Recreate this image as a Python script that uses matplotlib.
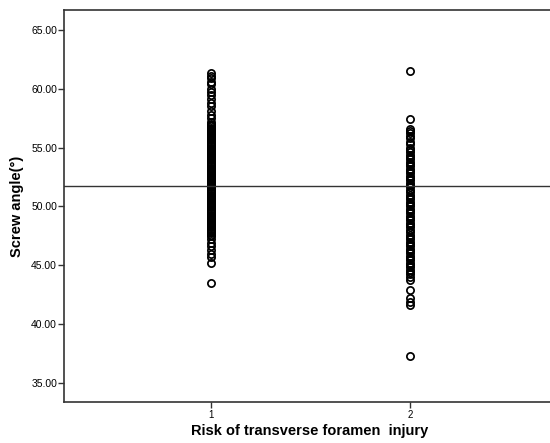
import matplotlib
matplotlib.use("Agg")
import matplotlib.pyplot as plt

# Datos
grupo_1 = [61.3, 61.1, 60.9, 60.6, 60.4, 60.0, 59.7, 59.5, 59.1, 58.8, 58.5,
           58.1, 57.8, 57.5, 57.2,
           57.0, 56.9, 56.8, 56.7, 56.6, 56.5, 56.4, 56.3, 56.2, 56.1,
           56.0, 55.9, 55.8, 55.7, 55.6, 55.5, 55.4, 55.3, 55.2, 55.1,
           55.0, 54.9, 54.8, 54.7, 54.6, 54.5, 54.4, 54.3, 54.2, 54.1,
           54.0, 53.9, 53.8, 53.7, 53.6, 53.5, 53.4, 53.3, 53.2, 53.1,
           53.0, 52.9, 52.8, 52.7, 52.6, 52.5, 52.4, 52.3, 52.2, 52.1,
           52.0, 51.9, 51.8, 51.7, 51.6, 51.5, 51.4, 51.3, 51.2, 51.1,
           51.0, 50.9, 50.8, 50.7, 50.6, 50.5, 50.4, 50.3, 50.2, 50.1,
           50.0, 49.9, 49.8, 49.7, 49.6, 49.5, 49.4, 49.3, 49.2, 49.1,
           49.0, 48.9, 48.8, 48.7, 48.6, 48.5, 48.4, 48.3, 48.2, 48.1,
           48.0, 47.9, 47.8, 47.7, 47.6, 47.5,
           47.2, 46.9, 46.6, 46.3, 45.9, 45.7, 45.2, 43.5]
grupo_2 = [61.5, 57.4, 56.6, 56.4, 56.2, 56.0, 55.8, 55.5, 55.3, 55.0, 54.8,
           54.6, 54.4, 54.2, 54.0, 53.8, 53.6, 53.4, 53.2, 53.0, 52.8, 52.6,
           52.4, 52.2, 52.0, 51.8, 51.6, 51.4, 51.2, 51.0, 50.8, 50.6, 50.4,
           50.2, 50.0, 49.8, 49.6, 49.4, 49.2, 49.0, 48.8, 48.6, 48.4, 48.2,
           48.0, 47.8, 47.6, 47.4, 47.2, 47.0, 46.8, 46.6, 46.4, 46.2, 46.0,
           45.8, 45.6, 45.4, 45.2, 45.0, 44.8, 44.6, 44.4, 44.2, 44.0, 43.7,
           42.9, 42.2, 41.9, 41.6, 37.3]
media = 51.7
yticks = [35, 40, 45, 50, 55, 60, 65]

plt.rcParams['font.family'] = ['Liberation Sans', 'DejaVu Sans']

fig = plt.figure(figsize=(5.5, 4.43), dpi=100)
ax = fig.add_axes([64 / 550, 1 - 402 / 443, 1 - 64 / 550 + 0.01, 392 / 443])

for x, vals in [(1, grupo_1), (2, grupo_2)]:
    ax.plot([x] * len(vals), vals, linestyle='none', marker='o', ms=5.2,
            mfc='none', mec='black', mew=1.25)

ax.axhline(media, color='#333333', lw=1)

ax.set_xlim(0.26, 2.73)
ax.set_ylim(33.35, 66.7)
ax.set_xticks([1, 2])
ax.set_xticklabels(['1', '2'], fontsize=7)
ax.set_yticks(yticks)
ax.set_yticklabels([f"{v:.2f}" for v in yticks], fontsize=7.5)
ax.tick_params(direction='out', length=4, width=1, color='#333333')
ax.tick_params(axis='x', pad=2)
ax.tick_params(axis='y', pad=1)

for lado in ['left', 'bottom', 'top']:
    ax.spines[lado].set_linewidth(1.2)
    ax.spines[lado].set_color('#333333')
ax.spines['right'].set_visible(False)

ax.set_xlabel("Risk of transverse foramen  injury", fontsize=10.5,
              fontweight='bold', labelpad=3)
ax.set_ylabel("Screw angle(°)", fontsize=10.5, fontweight='bold', labelpad=5)

plt.savefig("out.png", dpi=100)
